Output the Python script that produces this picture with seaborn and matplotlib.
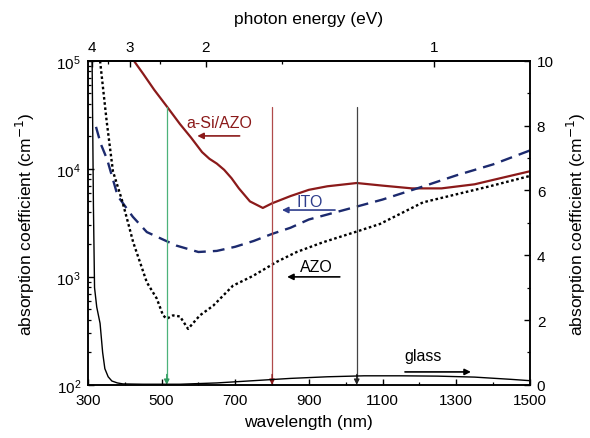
import numpy as np
import matplotlib
matplotlib.use("Agg")
import matplotlib.pyplot as plt
import seaborn as sns
from matplotlib.ticker import LogLocator, MultipleLocator, NullFormatter, FixedLocator

# ---------------- data ----------------
asi_wl = [425, 450, 480, 514, 550, 580, 610, 630, 650, 670, 690, 710, 740, 775,
          800, 850, 900, 950, 1030, 1100, 1180, 1260, 1350, 1420, 1500]
asi_alpha = [100000, 76000, 54000, 38000, 26000, 19500, 14300, 12400, 11200,
             9800, 8200, 6600, 5000, 4350, 4800, 5600, 6400, 6900, 7400, 7000,
             6600, 6600, 7200, 8200, 9500]

ito_wl = [322, 335, 352, 381, 422, 460, 500, 540, 600, 650, 700, 750, 800, 850,
          900, 1000, 1100, 1200, 1300, 1400, 1500]
ito_alpha = [24500, 17000, 12300, 5600, 3600, 2600, 2250, 1950, 1700, 1740, 1900,
             2150, 2500, 2850, 3400, 4200, 5200, 6700, 8700, 11000, 14800]

azo_wl = [333, 351, 368, 392, 406, 423, 441, 460, 487, 504, 514, 531, 550, 572,
          604, 640, 694, 748, 813, 867, 938, 1030, 1093, 1210, 1391, 1500]
azo_alpha = [100000, 27500, 9500, 5200, 3470, 2090, 1380, 890, 630, 440, 410, 440,
             430, 330, 440, 540, 830, 1020, 1380, 1700, 2090, 2630, 3090, 4900,
             6900, 8600]

glass_wl = [311, 313, 315, 318, 324, 333, 340, 346, 355, 365, 380, 395, 450, 550,
            650, 750, 850, 950, 1050, 1150, 1250, 1350, 1450, 1500]
glass_alpha = [10.5, 8.0, 5.5, 3.0, 2.4, 1.9, 1.0, 0.5, 0.25, 0.12, 0.06, 0.03,
               0.02, 0.02, 0.06, 0.13, 0.2, 0.25, 0.28, 0.28, 0.27, 0.24, 0.17,
               0.13]

guide_wavelengths = [514, 800, 1030]
guide_top_alpha = 37500
guide_colors = ["#4cb27a", "#b04a4a", "#444444"]
guide_head_colors = ["#2f9a5e", "#8b1a1a", "#222222"]

energy_major = [4, 3, 2, 1]
energy_minor = [3.5, 2.5, 1.5]

x_ticks = [300, 500, 700, 900, 1100, 1300, 1500]

# ---------------- style ----------------
sns.set_theme(style="ticks")
plt.rcParams["font.family"] = ["Liberation Sans", "DejaVu Sans"]
plt.rcParams.update({
    "axes.linewidth": 1.1,
    "xtick.direction": "in",
    "ytick.direction": "in",
    "xtick.major.size": 4.5,
    "ytick.major.size": 4.5,
    "xtick.minor.size": 2.5,
    "ytick.minor.size": 2.5,
    "xtick.major.width": 1.0,
    "ytick.major.width": 1.0,
    "xtick.minor.width": 0.9,
    "ytick.minor.width": 0.9,
    "xtick.major.pad": 6,
    "ytick.major.pad": 5,
    "xtick.labelsize": 11,
    "ytick.labelsize": 11,
    "axes.labelsize": 12.5,
    "axes.edgecolor": "black",
    "xtick.color": "black",
    "ytick.color": "black",
    "text.color": "black",
    "axes.labelcolor": "black",
})

fig, ax = plt.subplots(figsize=(5.9, 4.39), dpi=100)
fig.patch.set_facecolor("white")
fig.subplots_adjust(left=0.149, right=0.898, bottom=0.121, top=0.859)

sns.lineplot(x=asi_wl, y=asi_alpha, ax=ax, color="#8b1a1a", lw=1.6)
sns.lineplot(x=ito_wl, y=ito_alpha, ax=ax, color="#1c2a6e", lw=1.7,
             linestyle=(0, (5, 3)))
sns.lineplot(x=azo_wl, y=azo_alpha, ax=ax, color="black", lw=1.7,
             linestyle=(0, (1.1, 1.1)))

ax.set_yscale("log")
ax.set_xlim(300, 1500)
ax.set_ylim(100, 1e5)
ax.set_xticks(x_ticks)
ax.xaxis.set_minor_locator(MultipleLocator(100))
ax.yaxis.set_major_locator(LogLocator(base=10))
ax.yaxis.set_minor_locator(LogLocator(base=10, subs=range(2, 10)))
ax.yaxis.set_minor_formatter(NullFormatter())
ax.tick_params(which="both", top=False, right=False, bottom=True, left=True)
ax.set_xlabel("wavelength (nm)", labelpad=5)
ax.set_ylabel("absorption coefficient (cm$^{-1}$)", labelpad=14)

# guide arrows
for wl, col, hcol in zip(guide_wavelengths, guide_colors, guide_head_colors):
    ax.plot([wl, wl], [guide_top_alpha, 112], color=col, lw=0.9)
    ax.annotate("", xy=(wl, 100), xytext=(wl, 125),
                arrowprops=dict(arrowstyle="-|>", color=hcol, lw=0.9,
                                mutation_scale=8, shrinkA=0, shrinkB=0))

# right axis (glass)
ax2 = ax.twinx()
sns.lineplot(x=glass_wl, y=glass_alpha, ax=ax2, color="black", lw=1.0)
ax2.set_ylim(0, 10)
ax2.set_xlim(300, 1500)
ax2.yaxis.set_major_locator(MultipleLocator(2))
ax2.yaxis.set_minor_locator(MultipleLocator(1))
ax2.tick_params(which="both", direction="in", right=True, left=False)
ax2.set_ylabel("absorption coefficient (cm$^{-1}$)", rotation=90, labelpad=8)

# top axis (photon energy)
def wl_to_e(x):
    x = np.asarray(x, dtype=float)
    with np.errstate(divide="ignore"):
        return 1240.0 / x

sec = ax.secondary_xaxis("top", functions=(wl_to_e, wl_to_e))
sec.set_xticks(energy_major)
sec.set_xticklabels([str(e) for e in energy_major])
sec.xaxis.set_minor_locator(FixedLocator(energy_minor))
sec.tick_params(which="both", direction="in", pad=5)
sec.set_xlabel("photon energy (eV)", labelpad=12)

# annotations
ax.text(658, 27000, "a-Si/AZO", color="#8b1a1a", ha="center", va="center",
        fontsize=11.5)
ax.annotate("", xy=(597, 20200), xytext=(712, 20200),
            arrowprops=dict(arrowstyle="-|>", color="#8b1a1a", lw=1.2,
                            mutation_scale=9, shrinkA=0, shrinkB=0))
ax.text(903, 4950, "ITO", color="#2e3d8c", ha="center", va="center",
        fontsize=11.5)
ax.annotate("", xy=(827, 4160), xytext=(971, 4160),
            arrowprops=dict(arrowstyle="-|>", color="#2e3d8c", lw=1.2,
                            mutation_scale=9, shrinkA=0, shrinkB=0))
ax.text(919, 1260, "AZO", color="black", ha="center", va="center",
        fontsize=11.5)
ax.annotate("", xy=(841, 1000), xytext=(984, 1000),
            arrowprops=dict(arrowstyle="-|>", color="black", lw=1.2,
                            mutation_scale=9, shrinkA=0, shrinkB=0))
ax2.text(1210, 0.9, "glass", color="black", ha="center", va="center",
         fontsize=11.5)
ax2.annotate("", xy=(1340, 0.4), xytext=(1161, 0.4),
             arrowprops=dict(arrowstyle="-|>", color="black", lw=1.2,
                             mutation_scale=9, shrinkA=0, shrinkB=0))

for a in (ax, ax2):
    for s in a.spines.values():
        s.set_linewidth(1.1)
        s.set_color("black")

fig.savefig("out.png", dpi=100, facecolor="white")
